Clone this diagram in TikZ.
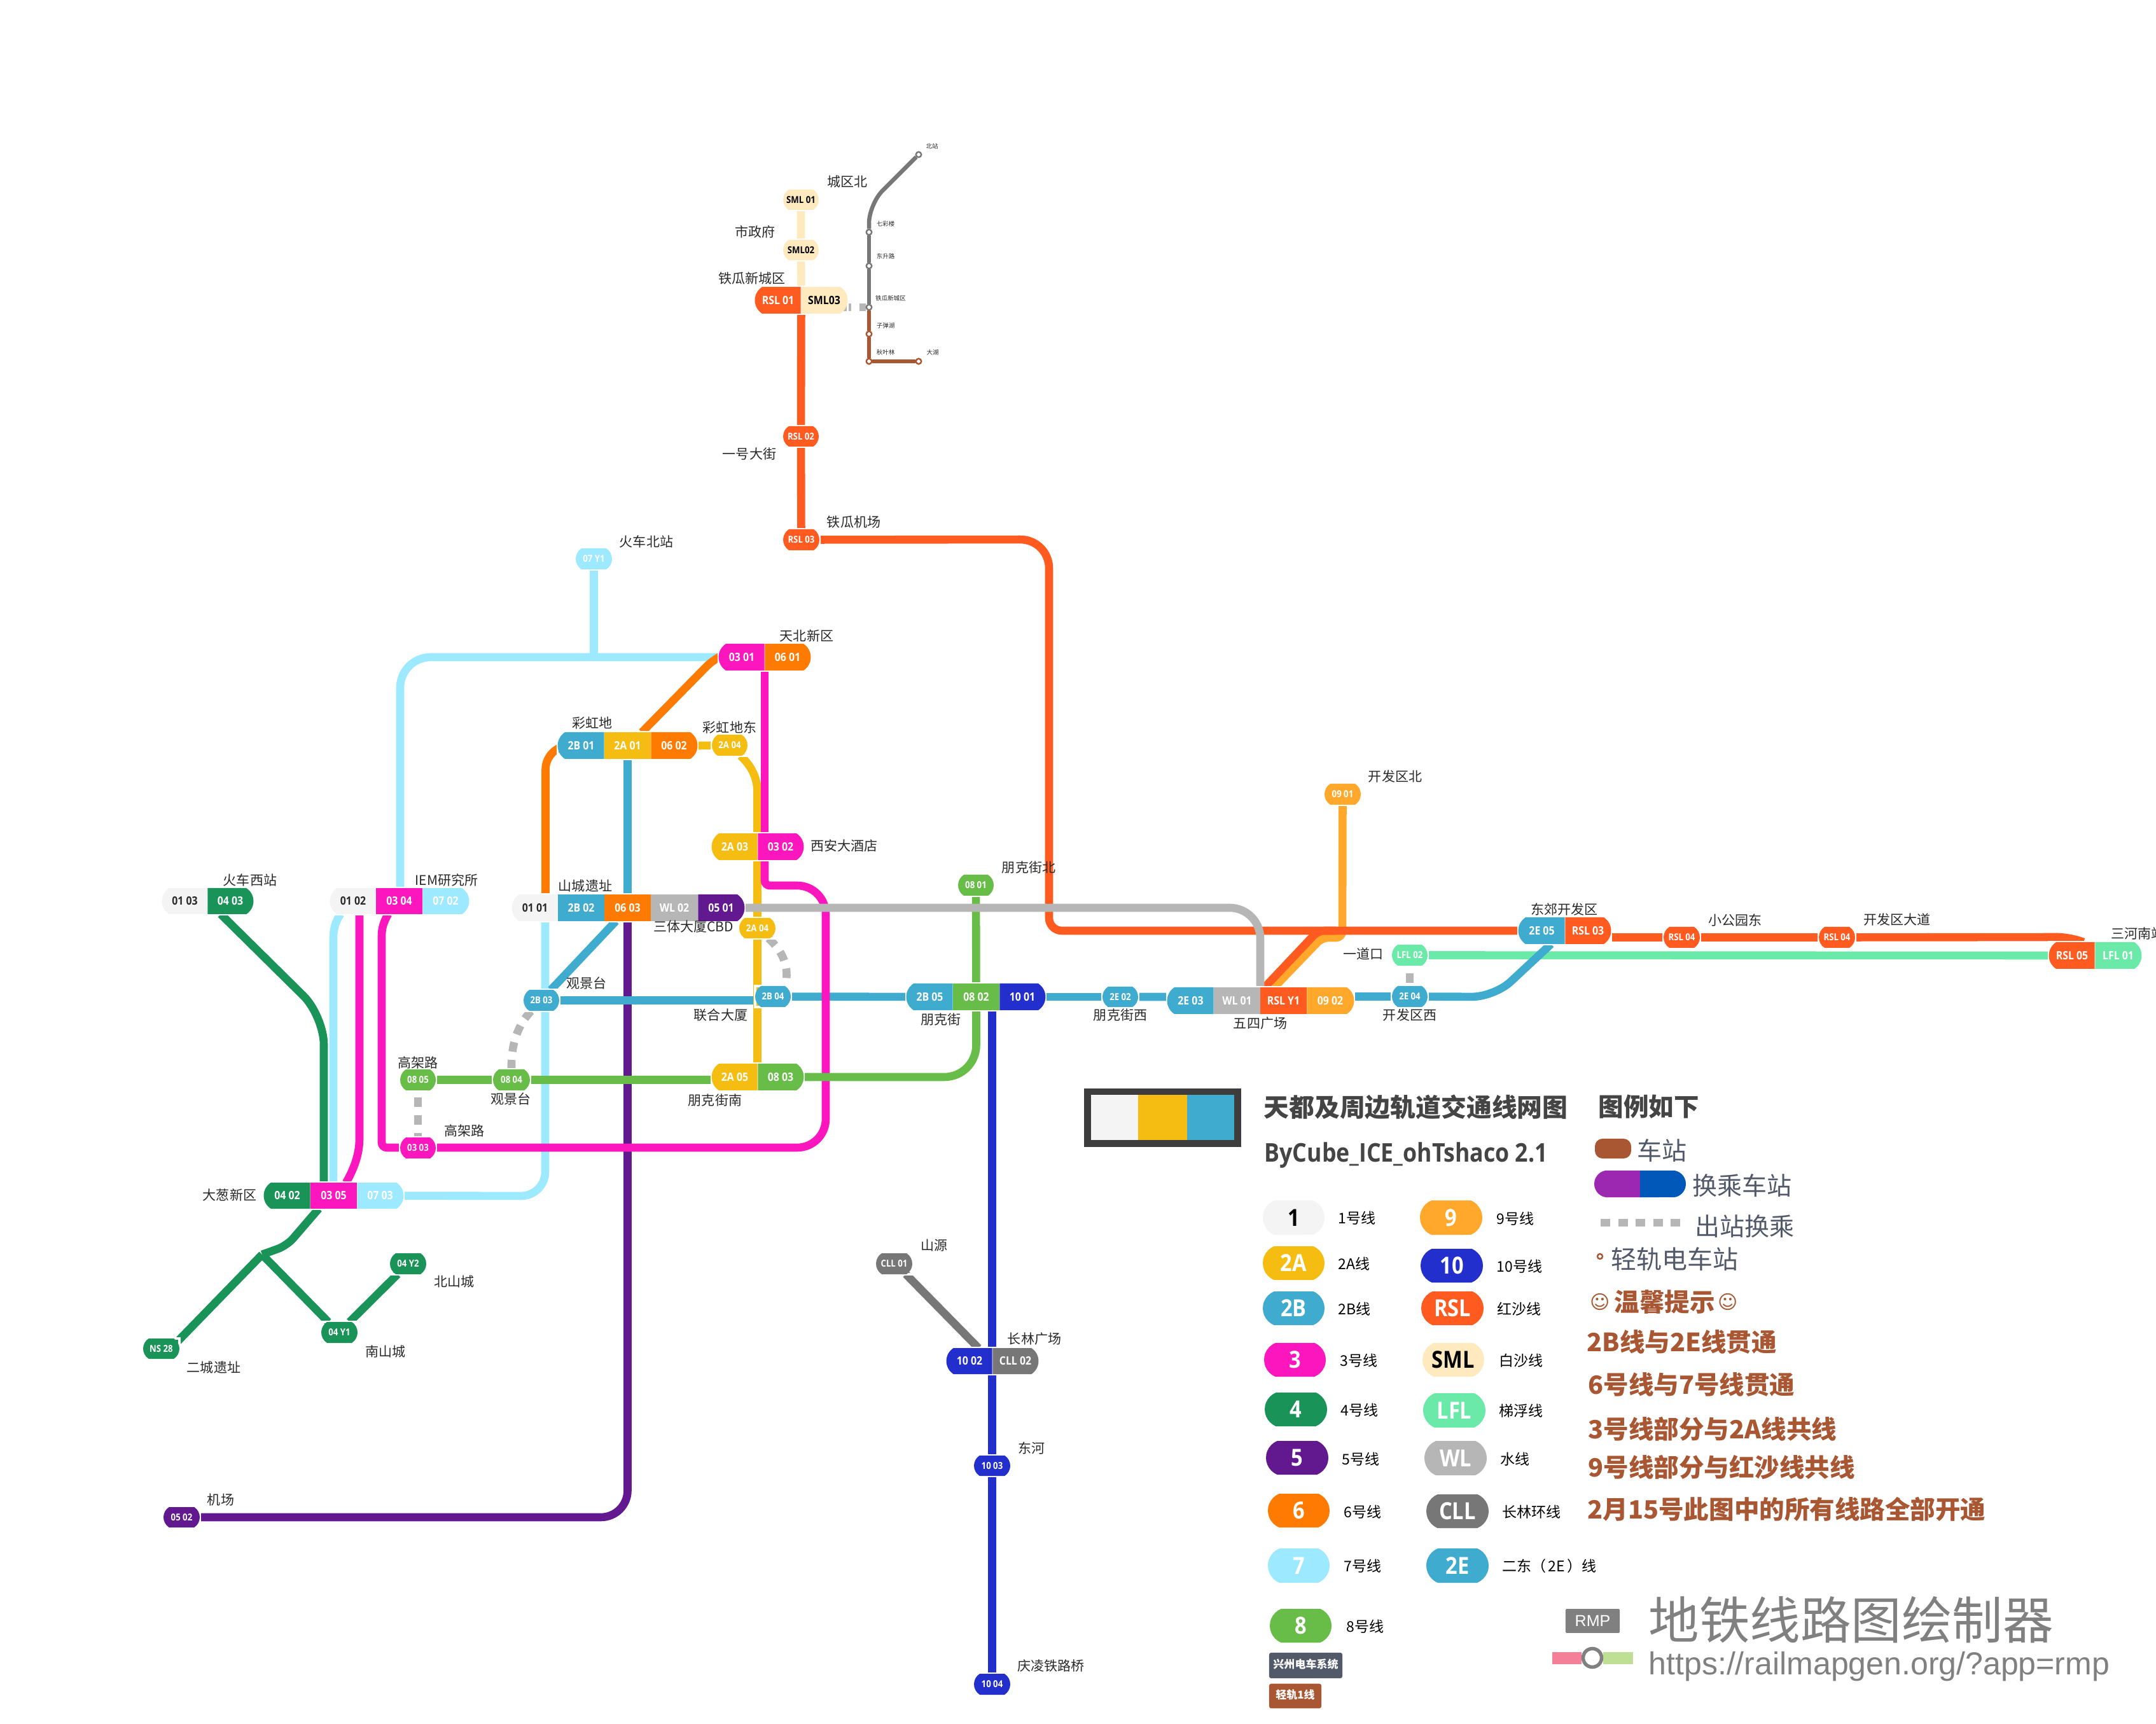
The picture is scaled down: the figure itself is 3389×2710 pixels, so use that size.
\documentclass[tikz,border=0pt]{standalone}
\usepackage{fontspec}
\usetikzlibrary{shapes.misc}
\setmainfont{Noto Sans CJK SC}
\newfontfamily\codef[FakeStretch=0.88]{Open Sans}
\newfontfamily\arialf{Liberation Sans}
\newfontfamily\symf{DejaVu Sans}
\newcommand{\fz}[1]{\fontsize{\fpeval{#1*0.2845}}{\fpeval{#1*0.31}}\selectfont}
\definecolor{cA}{HTML}{F4F4F4}\definecolor{cB}{HTML}{F5BD11}\definecolor{cC}{HTML}{3FABCF}
\definecolor{cD}{HTML}{FC16BD}\definecolor{cE}{HTML}{1A9358}\definecolor{cF}{HTML}{62188E}
\definecolor{cG}{HTML}{FF7A00}\definecolor{cH}{HTML}{9DE9FF}\definecolor{cI}{HTML}{67BD47}
\definecolor{cJ}{HTML}{FFA82B}\definecolor{cK}{HTML}{232FCC}\definecolor{cR}{HTML}{FF5B20}
\definecolor{cS}{HTML}{FFE9BE}\definecolor{cL}{HTML}{6AE9A8}\definecolor{cW}{HTML}{B6B6B6}
\definecolor{cX}{HTML}{777777}\definecolor{brn}{HTML}{A95632}\definecolor{slate}{HTML}{525A6A}
\definecolor{ink}{HTML}{2A2A2A}\definecolor{head}{HTML}{444444}\definecolor{rmpg}{HTML}{808080}
\definecolor{keyP}{HTML}{9C27B0}\definecolor{keyQ}{HTML}{0258B8}\definecolor{rmpP}{HTML}{F38097}\definecolor{rmpV}{HTML}{BFE094}
\pgfdeclarelayer{lines}\pgfdeclarelayer{halo}\pgfsetlayers{lines,halo,main}
\tikzset{
 x=0.01cm,y=-0.01cm,
 cbase/.style={inner sep=0pt,outer sep=0pt,rounded rectangle arc length=115},
 cLeft/.style={cbase,rounded rectangle,rounded rectangle east arc=none},
 cRight/.style={cbase,rounded rectangle,rounded rectangle west arc=none},
 cBoth/.style={cbase,rounded rectangle},
 cMid/.style={cbase,rectangle},
 big/.style={font=\codef\bfseries\fz{18}},
 small/.style={font=\codef\bfseries\fz{15}},
 pill/.style={font=\codef\bfseries\fz{37},rounded rectangle arc length=135},
 rail/.style={line width=0.126cm,draw=#1},
 xfer/.style={line width=0.126cm,draw=cW,dash pattern=on 0.15cm off 0.13cm},
 lrail/.style={line width=0.065cm,draw=#1},
 lrst/.style={circle,draw=#1,fill=white,line width=0.024cm,minimum size=0.085cm,inner sep=0pt},
 lab/.style={font=\fz{21},text=ink,inner sep=0pt},
 tiny/.style={font=\fz{9.5},text=ink,inner sep=0pt},
 leg/.style={font=\fz{23},text=black,anchor=west,inner sep=0pt},
 note/.style={font=\bfseries\fz{39.5},text=brn,anchor=west,inner sep=0pt},
 keytxt/.style={font=\fz{39},text=slate,anchor=west,inner sep=0pt},
}
\newcommand{\cell}[9]{\node[#2,fill=#3,text=#4,minimum width={(#6-#5)*0.01cm},minimum height={(#8-#7)*0.01cm}] (#1) at ({(#5+#6)/2},{(#7+#8)/2}) {#9};
 \begin{pgfonlayer}{halo}\draw[white,line width=0.035cm] (#1.west |- #1.north) rectangle (#1.east |- #1.south);\end{pgfonlayer}}
\newcounter{lbl}
\newcommand{\lb}[4][lab]{\stepcounter{lbl}\node[#1] (lbl\arabic{lbl}) at (#2,#3) {#4};}
\begin{document}
\begin{tikzpicture}
\useasboundingbox (0,0) rectangle (3389,2710);
\begin{pgfonlayer}{lines}
\fill[white] (0,0) rectangle (3389,2710);
\end{pgfonlayer}
% ---------- stations
\cell{sS1}{cBoth,small}{cS}{black}{1231}{1287}{298}{330}{SML 01}
\cell{sS2}{cBoth,small}{cS}{black}{1231}{1287}{377}{409}{SML02}
\cell{sR1}{cLeft,big}{cR}{white}{1187}{1259}{451}{493}{RSL 01}
\cell{sS3}{cRight,big}{cS}{black}{1259}{1332}{451}{493}{SML03}
\cell{sR2}{cBoth,small}{cR}{white}{1231}{1287}{670}{702}{RSL 02}
\cell{sR3}{cBoth,small}{cR}{white}{1231}{1288}{832}{865}{RSL 03}
\cell{s7Y}{cBoth,small}{cH}{white}{905}{962}{862}{895}{07 Y1}
\cell{s0301}{cLeft,big}{cD}{white}{1130}{1202}{1012}{1054}{03 01}
\cell{s0601}{cRight,big}{cG}{white}{1202}{1274}{1012}{1054}{06 01}
\cell{s2B01}{cLeft,big}{cC}{white}{877}{950}{1151}{1193}{2B 01}
\cell{s2A01}{cMid,big}{cB}{white}{950}{1023}{1151}{1193}{2A 01}
\cell{s0602}{cRight,big}{cG}{white}{1023}{1096}{1151}{1193}{06 02}
\cell{s2AU}{cBoth,small}{cB}{white}{1119}{1175}{1155}{1188}{2A 04}
\cell{s2A03}{cLeft,big}{cB}{white}{1119}{1191}{1310}{1352}{2A 03}
\cell{s0302}{cRight,big}{cD}{white}{1191}{1263}{1310}{1352}{03 02}
\cell{s0103}{cLeft,big}{cA}{ink}{255}{326}{1396}{1437}{01 03}
\cell{s0403}{cRight,big}{cE}{white}{326}{398}{1396}{1437}{04 03}
\cell{s0102}{cLeft,big}{cA}{ink}{519}{591}{1396}{1437}{01 02}
\cell{s0304}{cMid,big}{cD}{white}{591}{664}{1396}{1437}{03 04}
\cell{s0702}{cRight,big}{cH}{white}{664}{737}{1396}{1437}{07 02}
\cell{s0101}{cLeft,big}{cA}{ink}{805}{877}{1406}{1448}{01 01}
\cell{s2B02}{cMid,big}{cC}{white}{877}{950}{1406}{1448}{2B 02}
\cell{s0603}{cMid,big}{cG}{white}{950}{1023}{1406}{1448}{06 03}
\cell{sW2}{cMid,big}{cW}{white}{1023}{1097}{1406}{1448}{WL 02}
\cell{s0501}{cRight,big}{cF}{white}{1097}{1170}{1406}{1448}{05 01}
\cell{s0801}{cBoth,small}{cI}{white}{1506}{1562}{1375}{1408}{08 01}
\cell{s2AL}{cBoth,small}{cB}{white}{1162}{1219}{1443}{1475}{2A 04}
\cell{s2B03}{cBoth,small}{cC}{white}{823}{879}{1556}{1589}{2B 03}
\cell{s2B04}{cBoth,small}{cC}{white}{1187}{1243}{1550}{1583}{2B 04}
\cell{s2B05}{cLeft,big}{cC}{white}{1425}{1498}{1546}{1588}{2B 05}
\cell{s0802}{cMid,big}{cI}{white}{1498}{1571}{1546}{1588}{08 02}
\cell{s1001}{cRight,big}{cK}{white}{1571}{1643}{1546}{1588}{10 01}
\cell{s2E02}{cBoth,small}{cC}{white}{1733}{1789}{1551}{1583}{2E 02}
\cell{s2E03}{cLeft,big}{cC}{white}{1835}{1908}{1552}{1594}{2E 03}
\cell{sW1}{cMid,big}{cW}{white}{1908}{1981}{1552}{1594}{WL 01}
\cell{sRY}{cMid,big}{cR}{white}{1981}{2054}{1552}{1594}{RSL Y1}
\cell{s0902}{cRight,big}{cJ}{white}{2054}{2128}{1552}{1594}{09 02}
\cell{s2E04}{cBoth,small}{cC}{white}{2188}{2244}{1550}{1583}{2E 04}
\cell{sLF2}{cBoth,small}{cL}{white}{2188}{2244}{1485}{1518}{LFL 02}
\cell{s0901}{cBoth,small}{cJ}{white}{2082}{2139}{1232}{1265}{09 01}
\cell{s2E05}{cLeft,big}{cC}{white}{2387}{2460}{1442}{1484}{2E 05}
\cell{sR3b}{cRight,big}{cR}{white}{2460}{2532}{1442}{1484}{RSL 03}
\cell{sR4a}{cBoth,small}{cR}{white}{2615}{2672}{1457}{1490}{RSL 04}
\cell{sR4b}{cBoth,small}{cR}{white}{2859}{2916}{1457}{1490}{RSL 04}
\cell{sR5}{cLeft,big}{cR}{white}{3221}{3293}{1481}{1523}{RSL 05}
\cell{sLF1}{cRight,big}{cL}{white}{3293}{3366}{1481}{1523}{LFL 01}
\cell{s0805}{cBoth,small}{cI}{white}{629}{685}{1681}{1714}{08 05}
\cell{s0804}{cBoth,small}{cI}{white}{775}{833}{1681}{1714}{08 04}
\cell{s2A05}{cLeft,big}{cB}{white}{1119}{1191}{1672}{1714}{2A 05}
\cell{s0803}{cRight,big}{cI}{white}{1191}{1263}{1672}{1714}{08 03}
\cell{s0303}{cBoth,small}{cD}{white}{629}{685}{1788}{1821}{03 03}
\cell{s0402}{cLeft,big}{cE}{white}{415}{488}{1859}{1900}{04 02}
\cell{s0305}{cMid,big}{cD}{white}{488}{561}{1859}{1900}{03 05}
\cell{s0703}{cRight,big}{cH}{white}{561}{634}{1859}{1900}{07 03}
\cell{s4Y2}{cBoth,small}{cE}{white}{613}{670}{1970}{2003}{04 Y2}
\cell{s4Y1}{cBoth,small}{cE}{white}{505}{562}{2078}{2111}{04 Y1}
\cell{sNS}{cBoth,small}{cE}{white}{225}{282}{2104}{2136}{NS 28}
\cell{s0502}{cBoth,small}{cF}{white}{257}{314}{2369}{2401}{05 02}
\cell{sC1}{cBoth,small}{cX}{white}{1377}{1434}{1970}{2003}{CLL 01}
\cell{s1002}{cLeft,big}{cK}{white}{1488}{1560}{2119}{2160}{10 02}
\cell{sC2}{cRight,big}{cX}{white}{1560}{1632}{2119}{2160}{CLL 02}
\cell{s1003}{cBoth,small}{cK}{white}{1531}{1588}{2288}{2320}{10 03}
\cell{s1004}{cBoth,small}{cK}{white}{1531}{1588}{2631}{2664}{10 04}
% light rail stations
\node[lrst=cX] (lr0) at (1444,243) {};
\node[lrst=cX] (lr1) at (1366,365) {};
\node[lrst=cX] (lr2) at (1366,418) {};
\node[lrst=cX] (lr3) at (1366,483) {};
\node[lrst=brn] (lr4) at (1366,525) {};
\node[lrst=brn] (lr5) at (1366,568) {};
\node[lrst=brn] (lr6) at (1444,568) {};
\coordinate (j4) at (412,1972);
\coordinate (endNS) at (272,2116);
% ---------- connectors
\begin{pgfonlayer}{lines}
\draw[lrail=cX,rounded corners=0.3cm] (lr0) -- (1366,321) -- (lr1);
\draw[lrail=cX] (lr1) -- (lr2) -- (lr3);
\draw[lrail=brn] (lr3) -- (lr4) -- (lr5) -- (lr6);
\draw[rail=cF,rounded corners=0.42cm] (s0603) -- (986.5,2385) -- (s0502);
\draw[rail=cH] (s7Y) -- (s7Y |- s0301);
\draw[rail=cH,rounded corners=0.48cm] (s0301) -- (629,1033) -- (629,0 |- s0304.north);
\draw[rail=cH,rounded corners=0.38cm] (857,0 |- s0101.south) -- (857,1880) -- (s0703);
\draw[rail=cH] (535,0 |- s0102.south) .. controls (527,1450) and (524,1460) .. (524,1475) -- (524,0 |- s0402.north);
\draw[rail=cJ,rounded corners=0.1cm] (2003,0 |- s0902.north) -- (2078,1474) -- (2110,1474) -- (s0901);
\draw[rail=cR] (sS3.west |- sR1.south) -- (sR2);
\draw[rail=cR] (sR2) -- (sR3);
\draw[rail=cR,rounded corners=0.45cm] (sR3) -- (1649,848) [rounded corners=0.2cm] -- (1649,1463) -- (s2E05);
\draw[rail=cR,rounded corners=0.1cm] (1988,0 |- sRY.north) -- (2072,1463) -- (2100,1463);
\draw[rail=cR] (sR3b.east |- sR4a) -- (sR4a);
\draw[rail=cR] (sR4a) -- (sR4b);
\draw[rail=cR,rounded corners=0.2cm] (sR4b) -- (3254,1473) -- (3275,0 |- sR5.north);
\draw[rail=cS] (sS1) -- (sS2);
\draw[rail=cS] (sS2) -- (sS3.west |- sR1.north);
\draw[rail=cL] (sLF2) -- (sR5);
\draw[rail=cC] (s2A01) -- (986.5,0 |- s2B02.north);
\draw[rail=cC] (968,0 |- s2B02.south) -- (866,0 |- s2B03.north);
\draw[rail=cC] (s2B03) -- (s2B04.west |- s2B03);
\draw[rail=cC] (s2B04) -- (s2B05);
\draw[rail=cC] (s1001.east |- s2E02) -- (s2E02);
\draw[rail=cC] (s2E02) -- (s2E03.west |- s2E02);
\draw[rail=cC] (s0902.east |- s2E04) -- (s2E04);
\draw[rail=cC,rounded corners=0.35cm] (s2E04) -- (2349,1567) -- (2438,0 |- s2E05.south);
\draw[rail=cG,rounded corners=0.15cm] (s0301.west) -- (1121,1037) -- (1009,0 |- s2A01.north);
\draw[rail=cG,rounded corners=0.38cm] (s2B01.west) -- (857.5,1172) -- (857.5,0 |- s0101.north);
\draw[rail=cB] (s0602.east) -- (s2AU);
\draw[rail=cB] (1164,0 |- s2AU.south) .. controls (1181,1204) and (1190.5,1222) .. (1190.5,1245) -- (1190.5,0 |- s2A03.north);
\draw[rail=cB] (1190.5,0 |- s2A03.south) -- (1190.5,0 |- s2A05.north);
\draw[rail=cD] (1202,0 |- s0301.south) -- (1202,0 |- s0302.north);
\draw[rail=cD,rounded corners=0.08cm] (1202,0 |- s0302.south) -- (1202,1392) [rounded corners=0.45cm] -- (1298,1392) -- (1298,1804) [rounded corners=0.08cm] -- (600,1804) -- (600,1480) .. controls (600,1458) and (603,1450) .. (610,0 |- s0304.south);
\draw[rail=cD] (565,0 |- s0102.south) -- (565,1790) .. controls (565,1815) and (556,1838) .. (544,0 |- s0305.north);
\draw[rail=cI] (s0801) -- (s0802);
\draw[rail=cI,rounded corners=0.5cm] (s0802) -- (1534.5,1693) -- (s0803);
\draw[rail=cI] (s0805) -- (s0804);
\draw[rail=cI] (s0804) -- (s2A05.west |- s0804);
\draw[rail=cW,rounded corners=0.48cm] (s0501.east) -- (1981,1427) -- (1981,0 |- sW1.north);
\draw[rail=cE,rounded corners=0.45cm] (347,0 |- s0403.south) -- (509,1597) -- (509,0 |- s0402.north);
\draw[rail=cE,rounded corners=0.15cm] (501,0 |- s0402.south) -- (451,1958) -- (j4);
\draw[rail=cE] (j4) -- (endNS);
\draw[rail=cE] (j4) -- (516,0 |- s4Y1.north);
\draw[rail=cE] (549.5,0 |- s4Y1.north) -- (625,0 |- s4Y2.south);
\draw[rail=cX] (1424,0 |- sC1.south) -- (1538,0 |- s1002.north);
\draw[rail=cK] (1559.5,0 |- s1001.south) -- (1559.5,0 |- s1002.north);
\draw[rail=cK] (1559.5,0 |- s1002.south) -- (s1003);
\draw[rail=cK] (s1003) -- (s1004);
\draw[xfer,dash phase=0.17cm] (s0805.south) -- (s0303.north);
\draw[xfer] (s0804.north) .. controls (803,1640) and (815,1610) .. (835,0 |- s2B03.south);
\draw[xfer] (1208,0 |- s2AL.south) .. controls (1230,1495) and (1242,1520) .. (1234,0 |- s2B04.north);
\draw[xfer,dash phase=0.16cm] (sLF2.south) -- (s2E04.north);
\draw[xfer] (1323,0 |- lr3) -- (lr3);
\end{pgfonlayer}
% ---------- station names
\lb{1332}{286}{城区北}\lb{1187}{364}{市政府}\lb{1182}{438}{铁瓜新城区}\lb{1178}{714}{一号大街}
\lb[tiny]{1465}{230}{北站}\lb[tiny]{1392}{352}{七彩楼}\lb[tiny]{1392}{403}{东升路}\lb[tiny]{1400}{469}{铁瓜新城区}
\lb[tiny]{1392}{512}{子弹湖}\lb[tiny]{1392}{554}{秋叶林}\lb[tiny]{1466}{554}{大湖}
\lb{393}{1383}{火车西站}\lb{702}{1383}{IEM研究所}\lb{920}{1393}{山城遗址}\lb{1090}{1457}{三体大厦CBD}
\lb{922}{1545}{观景台}\lb{1133}{1596}{联合大厦}\lb{657}{1670}{高架路}\lb{803}{1727}{观景台}
\lb{1124}{1730}{朋克街南}\lb{730}{1777}{高架路}\lb{361}{1878}{大葱新区}\lb{1327}{1329}{西安大酒店}
\lb{1147}{1143}{彩虹地东}\lb{931}{1137}{彩虹地}\lb{1268}{999}{天北新区}\lb{1016}{851}{火车北站}
\lb{1342}{821}{铁瓜机场}\lb{1617}{1364}{朋克街北}\lb{1479}{1603}{朋克街}\lb{1761}{1596}{朋克街西}
\lb{1981}{1609}{五四广场}\lb{2193}{1221}{开发区北}\lb{2459}{1429}{东郊开发区}\lb{2143}{1499}{一道口}
\lb{2216}{1596}{开发区西}\lb{2727}{1446}{小公园东}\lb{2982}{1446}{开发区大道}\lb{3360}{1468}{三河南站}
\lb{714}{2015}{北山城}\lb{606}{2125}{南山城}\lb{336}{2150}{二城遗址}\lb{347}{2358}{机场}
\lb{1468}{1958}{山源}\lb{1626}{2105}{长林广场}\lb{1621}{2276}{东河}\lb{1652}{2619}{庆凌铁路桥}
% ---------- flag and titles
\fill[fill=head!90!black] (1704,1711) rectangle (1951,1803);
\fill[cA] (1715,1721) rectangle (1789,1792);
\fill[cB] (1789,1721) rectangle (1866,1792);
\fill[cC] (1866,1721) rectangle (1940,1792);
\lb[font=\bfseries\fz{39.8},text=head,anchor=west,inner sep=0pt]{1986}{1740}{天都及周边轨道交通线网图}
\lb[font=\codef\bfseries\fz{40.5},text=head,anchor=west,inner sep=0pt]{1987}{1816}{ByCube\_ICE\_ohTshaco 2.1}
\lb[font=\bfseries\fz{39.5},text=head,anchor=west,inner sep=0pt]{2512}{1740}{图例如下}
% ---------- legend pills
\cell{k1}{cBoth,pill}{cA}{black}{1985}{2082}{1887}{1941}{1}
\cell{k2A}{cBoth,pill}{cB}{white}{1985}{2082}{1959}{2012}{2A}
\cell{k2B}{cBoth,pill}{cC}{white}{1985}{2082}{2030}{2083}{2B}
\cell{k3}{cBoth,pill}{cD}{white}{1987}{2084}{2111}{2164}{3}
\cell{k4}{cBoth,pill}{cE}{white}{1988}{2086}{2189}{2242}{4}
\cell{k5}{cBoth,pill}{cF}{white}{1990}{2088}{2265}{2318}{5}
\cell{k6}{cBoth,pill}{cG}{white}{1993}{2090}{2348}{2401}{6}
\cell{k7}{cBoth,pill}{cH}{white}{1993}{2090}{2434}{2488}{7}
\cell{k8}{cBoth,pill}{cI}{white}{1996}{2093}{2529}{2582}{8}
\cell{k9}{cBoth,pill}{cJ}{white}{2232}{2330}{1887}{1941}{9}
\cell{k10}{cBoth,pill}{cK}{white}{2233}{2331}{1963}{2016}{10}
\cell{kR}{cBoth,pill}{cR}{white}{2234}{2332}{2030}{2083}{RSL}
\cell{kS}{cBoth,pill}{cS}{black}{2236}{2333}{2111}{2164}{SML}
\cell{kL}{cBoth,pill}{cL}{white}{2237}{2335}{2190}{2244}{LFL}
\cell{kW}{cBoth,pill}{cW}{white}{2239}{2337}{2265}{2319}{WL}
\cell{kC}{cBoth,pill}{cX}{white}{2242}{2340}{2349}{2402}{CLL}
\cell{kE}{cBoth,pill}{cC}{white}{2242}{2340}{2434}{2488}{2E}
\lb[leg]{2103}{1915}{1号线}\lb[leg]{2103}{1987}{2A线}\lb[leg]{2103}{2058}{2B线}
\lb[leg]{2106}{2139}{3号线}\lb[leg]{2107}{2217}{4号线}\lb[leg]{2109}{2294}{5号线}
\lb[leg]{2112}{2377}{6号线}\lb[leg]{2112}{2462}{7号线}\lb[leg]{2116}{2557}{8号线}
\lb[leg]{2352}{1916}{9号线}\lb[leg]{2352}{1991}{10号线}\lb[leg]{2353}{2058}{红沙线}
\lb[leg]{2356}{2139}{白沙线}\lb[leg]{2356}{2218}{梯浮线}\lb[leg]{2358}{2294}{水线}
\lb[leg]{2361}{2377}{长林环线}\lb[leg]{2361}{2462}{二东（\kern0.03cm 2E\kern0.03cm）线}
\node[rectangle,rounded corners=0.03cm,fill=slate,text=white,font=\bfseries\fz{17},minimum width=1.15cm,minimum height=0.4cm,inner sep=0pt] (badge1) at (2052.5,2618) {\raisebox{0.06cm}{兴州电车系统}};
\node[rectangle,rounded corners=0.03cm,fill=brn,text=white,font=\bfseries\fz{17},minimum width=0.82cm,minimum height=0.385cm,inner sep=0pt] (badge2) at (2036,2666) {\raisebox{0.06cm}{轻轨1线}};
% ---------- key
\node[rectangle,rounded corners=0.12cm,fill=brn,minimum width=0.57cm,minimum height=0.31cm,inner sep=0pt] (keyA) at (2535.5,1805.5) {};
\cell{keyB}{cLeft,rounded rectangle arc length=160}{keyP}{white}{2506}{2578}{1840}{1882}{}
\cell{keyC}{cRight,rounded rectangle arc length=160}{keyQ}{white}{2578}{2650}{1840}{1882}{}
\lb[keytxt]{2573}{1809}{车站}\lb[keytxt]{2660}{1864}{换乘车站}
\coordinate (dashA) at (2516,1922);\coordinate (dashB) at (2642,1922);
\draw[line width=0.12cm,draw=cW,dash pattern=on 0.15cm off 0.125cm] (dashA) -- (dashB);
\lb[keytxt]{2664}{1928}{出站换乘}
\node[lrst=brn,minimum size=0.08cm] (keyD) at (2515,1975) {};
\lb[keytxt,font=\fz{40}]{2532}{1979}{轻轨电车站}
\lb[font=\symf\fz{30},text=brn,inner sep=0pt]{2515}{2047}{☺}
\lb[note]{2537}{2047}{温馨提示}
\lb[font=\symf\fz{30},text=brn,inner sep=0pt]{2716}{2047}{☺}
\lb[note]{2494}{2109}{2B线与2E线贯通}
\lb[note]{2496}{2176}{6号线与7号线贯通}
\lb[note]{2496}{2246}{3号线部分与2A线共线}
\lb[note]{2496}{2306}{9号线部分与红沙线共线}
\lb[note]{2495}{2372}{2月15号此图中的所有线路全部开通}
% ---------- RMP logo
\node[rectangle,fill=rmpg,text=white,font=\arialf\fz{25},minimum width=0.85cm,minimum height=0.375cm,inner sep=0pt,rounded corners=0.015cm] (rmpbox) at (2503.5,2548) {RMP};
\node[circle,draw=rmpg,fill=white,line width=0.055cm,minimum size=0.29cm,inner sep=0pt] (rmpdot) at (2503,2606) {};
\coordinate (rmpL) at (2440,2606);\coordinate (rmpR) at (2567,2606);
\begin{pgfonlayer}{lines}
\draw[line width=0.19cm,draw=rmpP] (rmpL) -- (rmpdot);
\draw[line width=0.19cm,draw=rmpV] (rmpdot) -- (rmpR);
\end{pgfonlayer}
\lb[font=\fz{79.5},text=rmpg,anchor=west,inner sep=0pt]{2591}{2546}{地铁线路图绘制器}
\lb[font=\arialf\fz{50},text=rmpg,anchor=west,inner sep=0pt]{2591}{2620}{https://railmapgen.org/?app=rmp}
\end{tikzpicture}
\end{document}
